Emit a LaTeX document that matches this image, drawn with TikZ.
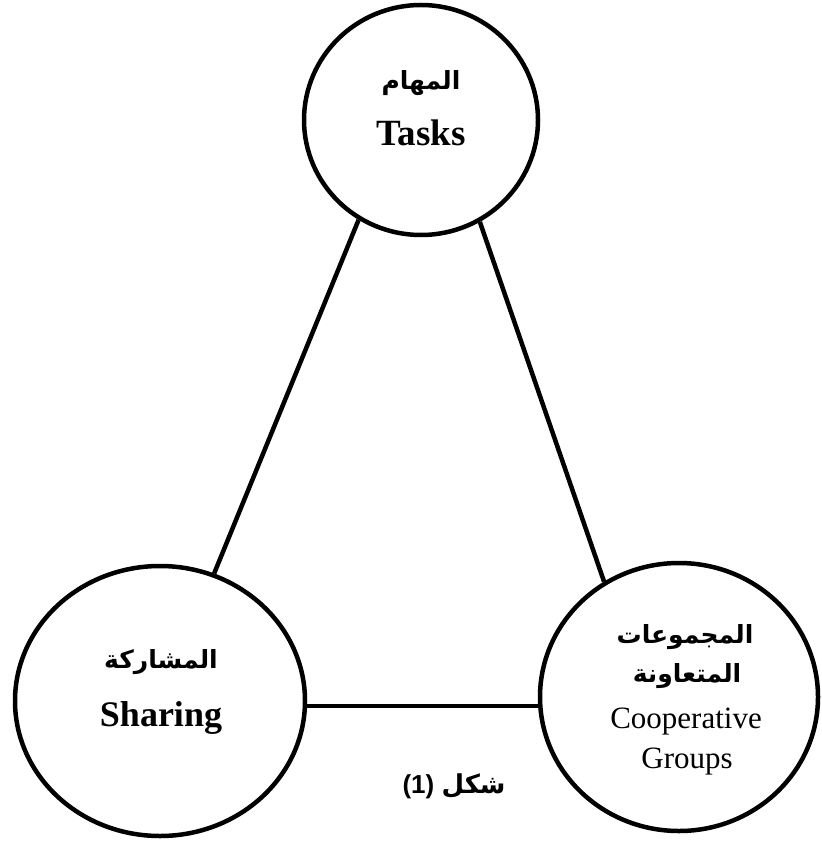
\documentclass[tikz,border=0pt]{standalone}
\usepackage{fontspec}
\setmainfont{Liberation Serif}
\newfontfamily\arabicfont[Script=Arabic]{DejaVu Sans}
\newfontfamily\capfont{Liberation Sans}
\TeXXeTstate=1
\usetikzlibrary{shapes.geometric}
\begin{document}
\begin{tikzpicture}[x=1pt,y=-1pt,
  bubble/.style={ellipse,draw=black,line width=4.5pt,inner sep=0pt},
  link/.style={draw=black,line width=4.5pt},
  entxt/.style={anchor=base,inner sep=0pt,font=\fontsize{36}{40}\selectfont\bfseries},
  enreg/.style={anchor=base,inner sep=0pt,font=\fontsize{31}{34}\selectfont},
  artxt/.style={anchor=base,inner sep=0pt,font=\fontsize{25}{28}\selectfont\arabicfont\bfseries},
  captxt/.style={anchor=base,inner sep=0pt}
]
\useasboundingbox (0,0) rectangle (821,842);
% circles
\node[bubble,minimum width=234pt,minimum height=230pt] (top) at (421,120) {};
\node[bubble,minimum width=290pt,minimum height=270pt] (left) at (160,701) {};
\node[bubble,minimum width=278pt,minimum height=268pt] (right) at (679,697) {};
% connectors
\draw[link] (top.238) -- (left.67);
\draw[link] (top.300) -- (right.123);
\draw[link] (left.358.4) -- (left.358.4 -| right.west);
% texts
\node[artxt] (tAr) at (421,90) {\beginR المهام\endR};
\node[entxt,font=\fontsize{37}{40}\selectfont\bfseries] (tEn) at (421,146) {Tasks};
\node[artxt] (lAr) at (161,668) {\beginR المشاركة\endR};
\node[entxt] (lEn) at (161,726) {Sharing};
\node[artxt] (rAr1) at (685,643) {\beginR المجموعات\endR};
\node[artxt] (rAr2) at (687,682) {\beginR المتعاونة\endR};
\node[enreg] (rEn1) at (686,728) {Cooperative};
\node[enreg] (rEn2) at (687,768) {Groups};
\node[captxt] (cap) at (454,793) {\fontsize{26}{30}\selectfont\capfont\bfseries (1) {\arabicfont\beginR شكل\endR}};
\end{tikzpicture}
\end{document}
